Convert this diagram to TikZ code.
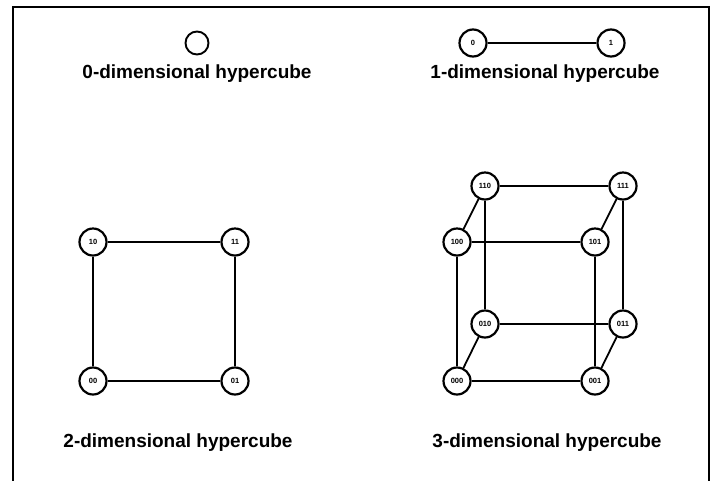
\documentclass[tikz,border=0pt]{standalone}
\usepackage{fontspec}
\setmainfont{Liberation Sans}
\begin{document}
\begin{tikzpicture}[x=1pt,y=-1pt,
  vtx/.style={circle,draw,line width=2.2pt,minimum size=27pt,inner sep=0pt,font=\fontsize{7.5}{7.5}\selectfont\bfseries},
  edge/.style={line width=1.8pt},
  caption/.style={font=\fontsize{19}{22}\selectfont\bfseries}]
\useasboundingbox (0,0) rectangle (714,480);
\draw[line width=2.6pt] (13,481) -- (13,7) -- (709,7) -- (709,481);
% 0-dim
\node[vtx,minimum size=23pt,line width=1.9pt] (z) at (197,43) {};
\node[caption] (c0) at (197,74) {0-dimensional hypercube};
% 1-dim
\node[vtx] (a0) at (473,43) {0};
\node[vtx] (a1) at (611,43) {1};
\draw[edge] (a0) -- (a1);
\node[caption] (c1) at (545,74) {1-dimensional hypercube};
% 2-dim
\node[vtx] (b10) at (93,242) {10};
\node[vtx] (b11) at (235,242) {11};
\node[vtx] (b00) at (93,381) {00};
\node[vtx] (b01) at (235,381) {01};
\draw[edge] (b10) -- (b11) -- (b01) -- (b00) -- (b10);
\node[caption] (c2) at (178,443) {2-dimensional hypercube};
% 3-dim
\node[vtx] (d110) at (485,186) {110};
\node[vtx] (d111) at (623,186) {111};
\node[vtx] (d100) at (457,242) {100};
\node[vtx] (d101) at (595,242) {101};
\node[vtx] (d010) at (485,324) {010};
\node[vtx] (d011) at (623,324) {011};
\node[vtx] (d000) at (457,381) {000};
\node[vtx] (d001) at (595,381) {001};
\draw[edge] (d110) -- (d111);
\draw[edge] (d100) -- (d101);
\draw[edge] (d010) -- (d011);
\draw[edge] (d000) -- (d001);
\draw[edge] (d110) -- (d010);
\draw[edge] (d111) -- (d011);
\draw[edge] (d100) -- (d000);
\draw[edge] (d101) -- (d001);
\draw[edge] (d110) -- (d100);
\draw[edge] (d111) -- (d101);
\draw[edge] (d010) -- (d000);
\draw[edge] (d011) -- (d001);
\node[caption] (c3) at (547,443) {3-dimensional hypercube};
\end{tikzpicture}
\end{document}
